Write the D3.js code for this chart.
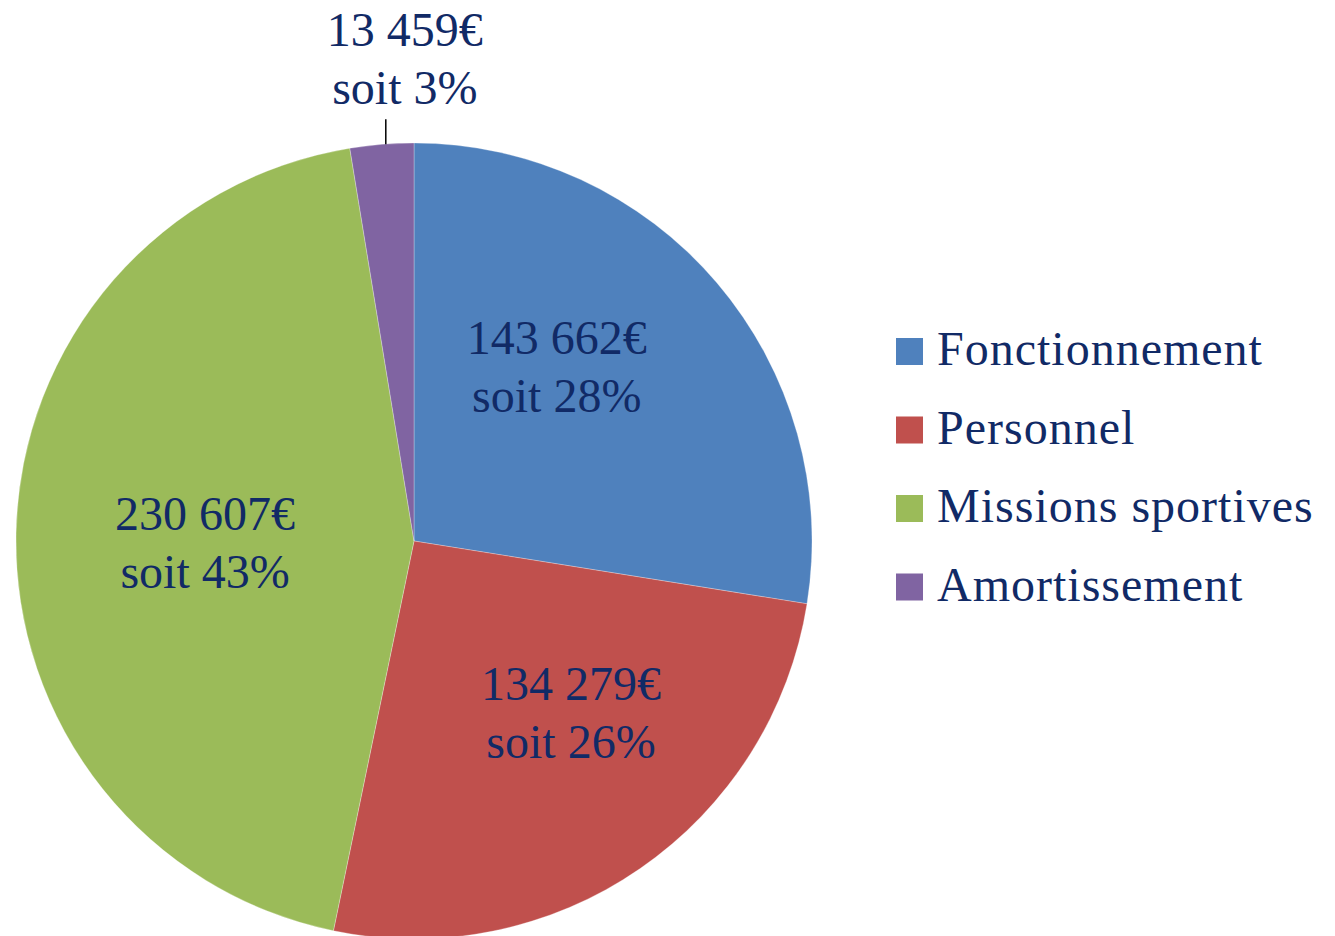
<!DOCTYPE html>
<html>
<head>
<meta charset="utf-8">
<script src="https://cdn.jsdelivr.net/npm/d3@7/dist/d3.min.js"></script>
<style>
  html, body { margin: 0; padding: 0; background: #ffffff; }
  svg { display: block; }
  .lbl { font-family: "Liberation Serif", "Times New Roman", "DejaVu Serif", serif; }
</style>
</head>
<body>
<svg id="chart" width="1335" height="936"></svg>
<script>
// ---- data ----
const categories = ["Fonctionnement", "Personnel", "Missions sportives", "Amortissement"];
const values = [143662, 134279, 230607, 13459];
const valueLabels = ["143 662€", "134 279€", "230 607€", "13 459€"];
const percentLabels = ["soit 28%", "soit 26%", "soit 43%", "soit 3%"];

// ---- styles / layout ----
const colors = ["#4F81BD", "#C0504D", "#9BBB59", "#8064A2"];
const textColor = "#112A66";
const fontSize = 48;
const lineGap = 58;
const cx = 414, cy = 541, radius = 398;
const labelRadius = 227;
// per-label nudges relative to computed centroid (inside labels)
const labelNudge = [[-30, -11], [28, 1], [18, 23], [0, 0]];
const outsideIndex = 3;

const svg = d3.select("#chart");
const g = svg.append("g").attr("transform", `translate(${cx},${cy})`);

const pie = d3.pie().sort(null).value(d => d)(values);
const arc = d3.arc().innerRadius(0).outerRadius(radius);

g.selectAll("path.slice")
  .data(pie)
  .join("path")
  .attr("class", "slice")
  .attr("d", arc)
  .attr("fill", (d, i) => colors[i])
  .attr("stroke", "#ffffff")
  .attr("stroke-opacity", 0.35)
  .attr("stroke-width", 0.8);

const labelArc = d3.arc().innerRadius(labelRadius).outerRadius(labelRadius);

pie.forEach((d, i) => {
  let x, y;
  if (i === outsideIndex) {
    const mid = (d.startAngle + d.endAngle) / 2;
    const rx = radius * Math.sin(mid) + 4;
    const ry = -radius * Math.cos(mid);
    g.append("line")
      .attr("x1", rx).attr("y1", ry)
      .attr("x2", rx).attr("y2", ry - 25)
      .attr("stroke", "#000000")
      .attr("stroke-width", 1.5);
    x = rx + 19;
    y = ry - 25 - 44;
  } else {
    const c = labelArc.centroid(d);
    x = c[0] + labelNudge[i][0];
    y = c[1] + labelNudge[i][1];
  }
  const t = g.append("text")
    .attr("class", "lbl")
    .attr("text-anchor", "middle")
    .attr("fill", textColor)
    .style("font-size", fontSize + "px");
  t.append("tspan").attr("x", x).attr("y", y - lineGap / 2).text(valueLabels[i]);
  t.append("tspan").attr("x", x).attr("y", y + lineGap / 2).text(percentLabels[i]);
});

// ---- legend ----
const legendX = 896, legendY0 = 365, legendStep = 78.5, sq = 27;
const lg = svg.append("g");
categories.forEach((c, i) => {
  const by = legendY0 + i * legendStep;
  lg.append("rect")
    .attr("x", legendX).attr("y", by - sq)
    .attr("width", sq).attr("height", sq)
    .attr("fill", colors[i]);
  lg.append("text")
    .attr("class", "lbl")
    .attr("x", legendX + 41).attr("y", by)
    .attr("fill", textColor)
    .style("font-size", fontSize + "px")
    .style("letter-spacing", "1px")
    .text(c);
});
</script>
</body>
</html>
